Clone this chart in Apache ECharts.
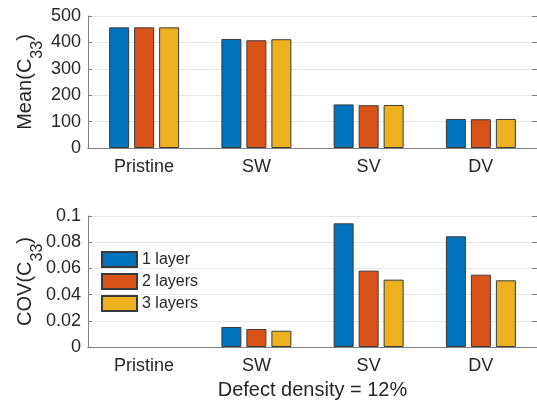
<!DOCTYPE html>
<html>
<head>
<meta charset="utf-8">
<script src="https://cdn.jsdelivr.net/npm/echarts@6/dist/echarts.min.js"></script>
<style>html,body{margin:0;padding:0;background:#fff;}#c{width:537px;height:403px;}</style>
</head>
<body>
<div id="c"></div>
<script>
const categories = ['Pristine', 'SW', 'SV', 'DV'];
const seriesNames = ['1 layer', '2 layers', '3 layers'];
const meanL1 = [457, 413, 165, 110];
const meanL2 = [457, 408, 162, 109];
const meanL3 = [457, 412, 163, 110];
const covL1 = [0, 0.0153, 0.0944, 0.0845];
const covL2 = [0, 0.0137, 0.0583, 0.0552];
const covL3 = [0, 0.0124, 0.0514, 0.0509];
const colors = ['#0072BD', '#D95319', '#EDB120'];
const xLabel = 'Defect density = 12%';

const FONT = '"Liberation Sans", Arial, Helvetica, sans-serif';
const TXT = '#262626';
const AX = '#808080';

function yName(prefix) {
  return '{m|' + prefix + '(C}{s|33}{m|)}';
}
const nameRich = {
  m: { fontSize: 20, lineHeight: 22, verticalAlign: 'top', color: TXT, fontFamily: FONT },
  s: { fontSize: 16, lineHeight: 16, padding: [15, 0, 0, 0], verticalAlign: 'top', color: TXT, fontFamily: FONT }
};

const grids = [
  { left: 88, top: 16, width: 452, height: 132 },
  { left: 88, top: 216, width: 452, height: 131 }
];

function xAxes(gi, withName) {
  return [
    {
      type: 'category', gridIndex: gi, data: categories, position: 'bottom', z: 5,
      axisLine: { lineStyle: { color: AX, width: 1 } },
      axisTick: { inside: true, alignWithLabel: true, length: 5, lineStyle: { color: AX } },
      axisLabel: { color: TXT, fontSize: 18, fontFamily: FONT, margin: 10 },
      name: withName ? xLabel : '', nameLocation: 'middle', nameGap: 33, nameMoveOverlap: false,
      nameTextStyle: { color: TXT, fontSize: 20, fontFamily: FONT, verticalAlign: 'top' }
    },
    {
      type: 'category', gridIndex: gi, data: categories, position: 'top', z: 5,
      axisLine: { show: true, lineStyle: { color: AX, width: 1 } },
      axisTick: { inside: true, alignWithLabel: true, length: 5, lineStyle: { color: AX } },
      axisLabel: { show: false }
    }
  ];
}

function yAxes(gi, max, interval, prefix) {
  return [
    {
      type: 'value', gridIndex: gi, min: 0, max: max, interval: interval, position: 'left',
      axisLine: { show: true, lineStyle: { color: AX, width: 1 } },
      axisTick: { show: true, inside: true, length: 4, lineStyle: { color: AX } },
      axisLabel: { color: TXT, fontSize: 18, fontFamily: FONT, margin: 7 },
      splitLine: { show: true, lineStyle: { color: '#e6e6e6', width: 1 } },
      name: yName(prefix), nameLocation: 'middle', nameGap: 51, nameRotate: 90, nameMoveOverlap: false,
      nameTextStyle: { rich: nameRich }
    },
    {
      type: 'value', gridIndex: gi, min: 0, max: max, interval: interval, position: 'right',
      axisLine: { show: true, lineStyle: { color: AX, width: 1 } },
      axisTick: { show: true, inside: true, length: 5, lineStyle: { color: AX } },
      axisLabel: { show: false },
      splitLine: { show: false }
    }
  ];
}

function bars(data, idx, gi) {
  return {
    type: 'bar', name: seriesNames[idx],
    data: data.map(v => v === 0 ? { value: v, itemStyle: { borderWidth: 0 } } : v),
    xAxisIndex: gi * 2, yAxisIndex: gi * 2,
    barWidth: 20, barGap: '25%',
    itemStyle: { color: colors[idx], borderColor: '#3a3a3a', borderWidth: 1 },
    emphasis: { disabled: true },
    animation: false
  };
}

const chart = echarts.init(document.getElementById('c'), null, { renderer: 'canvas' });
chart.setOption({
  animation: false,
  backgroundColor: '#ffffff',
  textStyle: { fontFamily: FONT },
  grid: grids,
  xAxis: [].concat(xAxes(0, false), xAxes(1, true)),
  yAxis: [].concat(yAxes(0, 500, 100, 'Mean'), yAxes(1, 0.1, 0.02, 'COV')),
  legend: {
    data: seriesNames.map(n => ({ name: n, icon: 'rect' })), orient: 'vertical', left: 101, top: 251,
    itemWidth: 35, itemHeight: 15, itemGap: 5, padding: 0,
    textStyle: { color: TXT, fontSize: 16, fontFamily: FONT, lineHeight: 15 },
    selectedMode: false
  },
  series: [
    bars(meanL1, 0, 0), bars(meanL2, 1, 0), bars(meanL3, 2, 0),
    bars(covL1, 0, 1), bars(covL2, 1, 1), bars(covL3, 2, 1)
  ]
});
</script>
</body>
</html>
